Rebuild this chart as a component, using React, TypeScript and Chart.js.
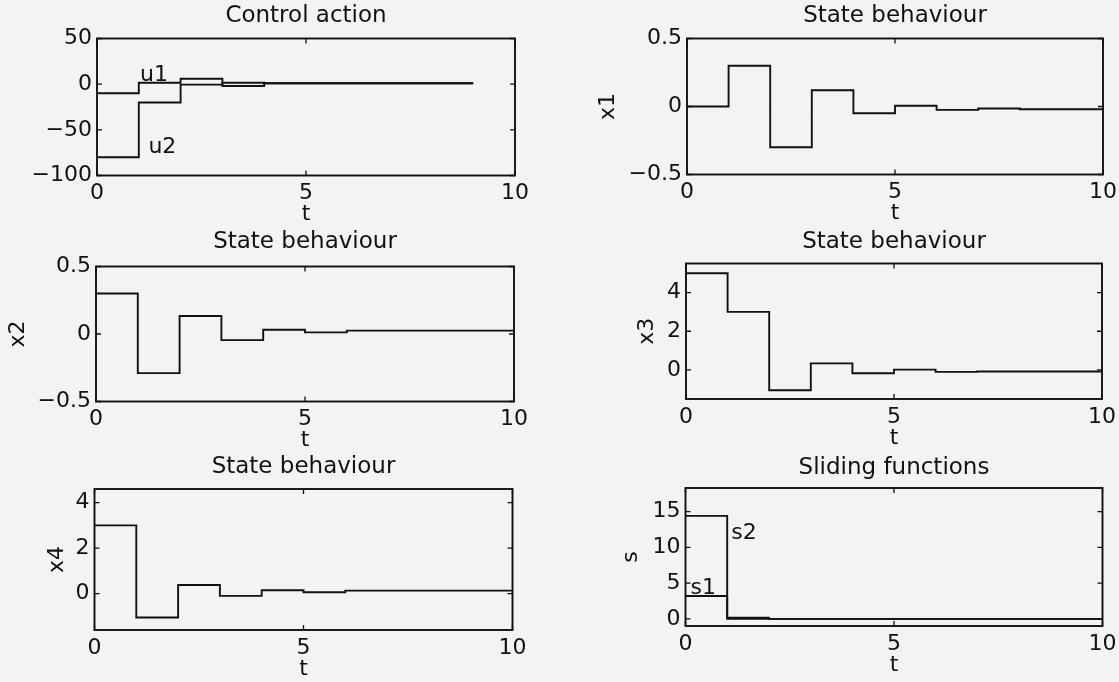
import React, { useEffect, useRef } from "react";
import { Chart, registerables } from "chart.js";

Chart.register(...registerables);

// ---------- data ----------
const tControl = [0, 1, 2, 3, 4, 5, 6, 7, 8, 9];
const tState = [0, 1, 2, 3, 4, 5, 6, 7, 8, 9, 10];

const u1 = [-10, 1.5, 6, -2, 1, 1, 1, 1, 1, 1];
const u2 = [-80, -20, -0.5, 1.5, 1, 1, 1, 1, 1, 1];
const x1 = [0, 0.3, -0.3, 0.12, -0.05, 0.005, -0.025, -0.015, -0.02, -0.02, -0.02];
const x2 = [0.3, -0.29, 0.133, -0.045, 0.032, 0.012, 0.025, 0.025, 0.025, 0.025, 0.025];
const x3 = [5.0, 3.0, -1.05, 0.34, -0.17, 0.02, -0.1, -0.08, -0.08, -0.08, -0.08];
const x4 = [3.0, -1.05, 0.38, -0.1, 0.145, 0.06, 0.13, 0.13, 0.13, 0.13, 0.13];
const s1 = [3.2, 0, 0, 0, 0, 0, 0, 0, 0, 0, 0];
const s2 = [14.4, 0.15, 0, 0, 0, 0, 0, 0, 0, 0, 0];

const xTicks = [0, 5, 10];
const uTicks = [-100, -50, 0, 50];
const halfTicks = [-0.5, 0, 0.5];
const x3Ticks = [0, 2, 4];
const x4Ticks = [0, 2, 4];
const sTicks = [0, 5, 10, 15];

// ---------- style ----------
const INK = "#111111";
const FAMILY = "'DejaVu Sans', 'Liberation Sans', sans-serif";
const TICK_SIZE = 22;
const TITLE_SIZE = 23;
const LH = 1.2;
const HALF_LH = (TICK_SIZE * LH) / 2;
const TITLE_LH = TITLE_SIZE * LH;
const TICK_LEN = 5;
const LINE_W = 1.9;
const X_AXIS_H = 39 + HALF_LH;

type Note = { text: string; x: number; y: number };
type Spec = {
  title: string;
  yTitle: string;
  L: number; T: number; W: number; H: number;
  titleY: number;
  yTitleX: number | null;
  yMin: number; yMax: number;
  yTicks: number[];
  xs: number[];
  series: number[][];
  notes: Note[];
};

const specs: Spec[] = [
  {
    title: "Control action", yTitle: "",
    L: 97, T: 38.5, W: 418, H: 137, titleY: 16, yTitleX: null,
    yMin: -100, yMax: 50, yTicks: uTicks, xs: tControl, series: [u1, u2],
    notes: [{ text: "u1", x: 1.03, y: 10 }, { text: "u2", x: 1.23, y: -69 }],
  },
  {
    title: "State behaviour", yTitle: "x1",
    L: 687, T: 38.5, W: 416, H: 136, titleY: 16, yTitleX: 608,
    yMin: -0.5, yMax: 0.5, yTicks: halfTicks, xs: tState, series: [x1], notes: [],
  },
  {
    title: "State behaviour", yTitle: "x2",
    L: 96, T: 266.5, W: 418, H: 135, titleY: 242, yTitleX: 18,
    yMin: -0.5, yMax: 0.5, yTicks: halfTicks, xs: tState, series: [x2], notes: [],
  },
  {
    title: "State behaviour", yTitle: "x3",
    L: 686, T: 263.5, W: 416, H: 135.5, titleY: 242, yTitleX: 647.5,
    yMin: -1.5, yMax: 5.5, yTicks: x3Ticks, xs: tState, series: [x3], notes: [],
  },
  {
    title: "State behaviour", yTitle: "x4",
    L: 94.5, T: 489, W: 418, H: 141, titleY: 467, yTitleX: 57,
    yMin: -1.6, yMax: 4.6, yTicks: x4Ticks, xs: tState, series: [x4], notes: [],
  },
  {
    title: "Sliding functions", yTitle: "s",
    L: 685.5, T: 488, W: 417, H: 138, titleY: 468, yTitleX: 631,
    yMin: -1, yMax: 18.3, yTicks: sTicks, xs: tState, series: [s1, s2],
    notes: [{ text: "s1", x: 0.12, y: 4.3 }, { text: "s2", x: 1.1, y: 11.9 }],
  },
];

const fmt = (v: number) => (v < 0 ? "\u2212" + String(Math.abs(v)) : String(v));

function geometry(s: Spec) {
  const canvasLeft = s.yTitleX === null ? Math.round(s.L - 72) : Math.round(s.yTitleX - HALF_LH);
  const yWidth = s.L - canvasLeft;
  const canvasTop = Math.round(s.titleY - TITLE_LH / 2);
  const titlePadBottom = s.T - canvasTop - TITLE_LH;
  const width = Math.ceil(yWidth + s.W + 16);
  const rightPad = width - yWidth - s.W;
  const height = Math.ceil(s.T - canvasTop + s.H + X_AXIS_H);
  const bottomPad = height - (s.T - canvasTop) - s.H - X_AXIS_H;
  return { canvasLeft, canvasTop, yWidth, titlePadBottom, width, height, rightPad, bottomPad };
}

function Panel({ spec }: { spec: Spec }) {
  const ref = useRef<HTMLCanvasElement | null>(null);
  const g = geometry(spec);

  useEffect(() => {
    if (!ref.current) return;
    const font = { family: FAMILY, size: TICK_SIZE, lineHeight: LH };
    const boxPlugin = {
      id: "matlabBox",
      afterDatasetsDraw(chart: any) {
        const { ctx, chartArea: a, scales } = chart;
        ctx.save();
        ctx.strokeStyle = INK;
        ctx.lineWidth = LINE_W;
        ctx.strokeRect(a.left, a.top, a.right - a.left, a.bottom - a.top);
        ctx.lineWidth = 1.3;
        ctx.beginPath();
        for (const t of scales.x.ticks) {
          const px = scales.x.getPixelForValue(t.value);
          ctx.moveTo(px, a.bottom); ctx.lineTo(px, a.bottom - TICK_LEN);
          ctx.moveTo(px, a.top); ctx.lineTo(px, a.top + TICK_LEN);
        }
        for (const t of scales.y.ticks) {
          const py = scales.y.getPixelForValue(t.value);
          ctx.moveTo(a.left, py); ctx.lineTo(a.left + TICK_LEN, py);
          ctx.moveTo(a.right, py); ctx.lineTo(a.right - TICK_LEN, py);
        }
        ctx.stroke();
        ctx.fillStyle = INK;
        ctx.font = `${TICK_SIZE}px ${FAMILY}`;
        ctx.textAlign = "left";
        ctx.textBaseline = "middle";
        for (const n of spec.notes) {
          ctx.fillText(n.text, scales.x.getPixelForValue(n.x), scales.y.getPixelForValue(n.y));
        }
        ctx.restore();
      },
    };

    const chart = new Chart(ref.current, {
      type: "line",
      data: {
        datasets: spec.series.map((vals) => ({
          data: vals.map((v, i) => ({ x: spec.xs[i], y: v })),
          borderColor: INK,
          borderWidth: LINE_W,
          pointRadius: 0,
          stepped: "before" as const,
          fill: false,
        })),
      },
      options: {
        animation: false,
        responsive: false,
        devicePixelRatio: 1,
        events: [],
        layout: {
          autoPadding: false,
          padding: { left: 0, top: 0, right: g.rightPad, bottom: g.bottomPad },
        },
        plugins: {
          legend: { display: false },
          tooltip: { enabled: false },
          title: {
            display: true,
            text: spec.title,
            color: INK,
            fullSize: false,
            font: { family: FAMILY, size: TITLE_SIZE, weight: "normal", lineHeight: LH },
            padding: { top: 0, bottom: g.titlePadBottom },
          },
        },
        scales: {
          x: {
            type: "linear",
            position: "bottom",
            min: 0,
            max: 10,
            bounds: "data",
            afterBuildTicks: (sc: any) => { sc.ticks = xTicks.map((v) => ({ value: v })); },
            afterFit: (sc: any) => {
              sc.height = X_AXIS_H;
              sc.paddingLeft = 0; sc.paddingRight = 0; sc.paddingTop = 0; sc.paddingBottom = 0;
            },
            grid: { display: false, drawTicks: false },
            border: { display: false },
            ticks: { color: INK, font, padding: 5, maxRotation: 0, autoSkip: false, callback: (v: any) => fmt(Number(v)) },
            title: { display: true, text: "t", color: INK, font, padding: 0 },
          },
          y: {
            type: "linear",
            position: "left",
            min: spec.yMin,
            max: spec.yMax,
            bounds: "data",
            afterBuildTicks: (sc: any) => { sc.ticks = spec.yTicks.map((v) => ({ value: v })); },
            afterFit: (sc: any) => {
              sc.width = g.yWidth;
              sc.paddingLeft = 0; sc.paddingRight = 0; sc.paddingTop = 0; sc.paddingBottom = 0;
            },
            grid: { display: false, drawTicks: false },
            border: { display: false },
            ticks: { color: INK, font, padding: 5, autoSkip: false, callback: (v: any) => fmt(Number(v)) },
            title: { display: spec.yTitle !== "", text: spec.yTitle, color: INK, font, padding: 0 },
          },
        },
      },
      plugins: [boxPlugin],
    } as any);
    return () => chart.destroy();
  }, []);

  return (
    <canvas
      ref={ref}
      width={g.width}
      height={g.height}
      style={{ position: "absolute", left: g.canvasLeft, top: g.canvasTop, width: g.width, height: g.height }}
    />
  );
}

export default function App() {
  return (
    <div
      style={{
        position: "absolute",
        left: 0,
        top: 0,
        width: 1119,
        height: 682,
        overflow: "hidden",
        background: "#f3f3f3",
      }}
    >
      {specs.map((s, i) => (
        <Panel key={i} spec={s} />
      ))}
    </div>
  );
}
